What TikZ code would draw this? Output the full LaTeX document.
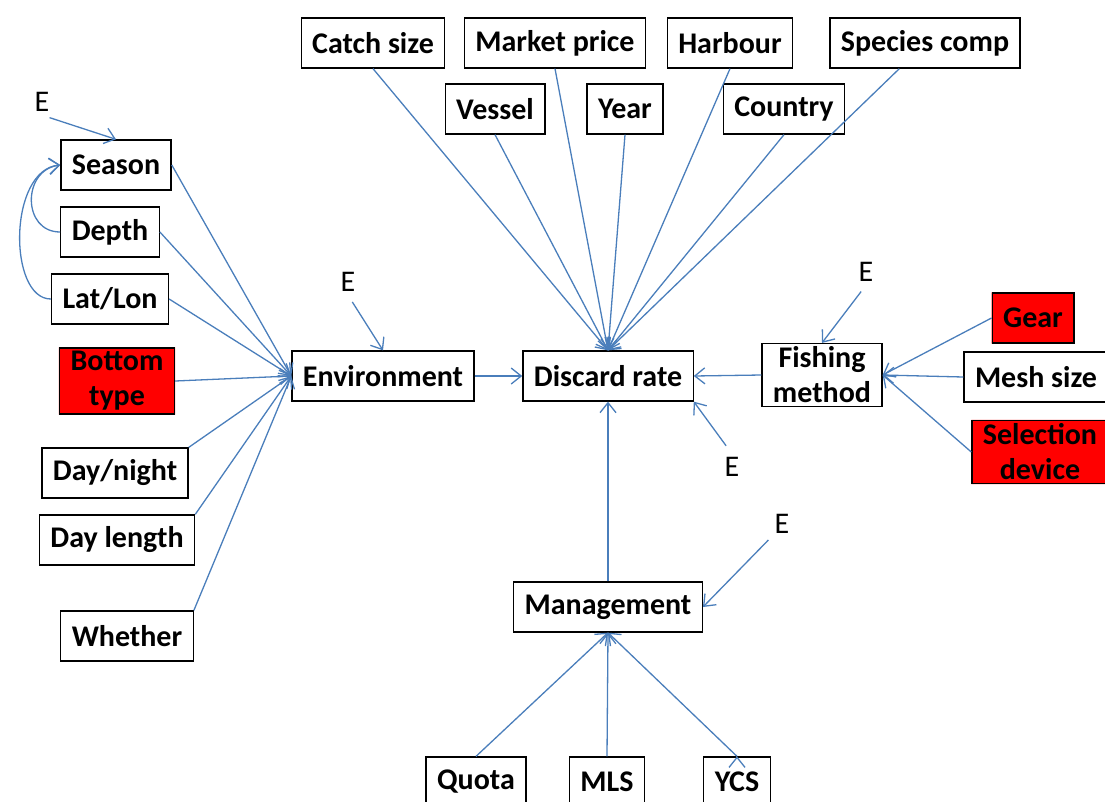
\documentclass[tikz,border=0pt]{standalone}
\usepackage{fontspec}
\setmainfont{Carlito}
\usetikzlibrary{arrows.meta,backgrounds}
\definecolor{linkblue}{RGB}{74,126,187}
\definecolor{ink}{RGB}{0,0,0}
\definecolor{alarm}{RGB}{255,0,0}
\begin{document}
\begin{tikzpicture}[x=1pt,y=-1pt]
\tikzstyle{every node}=[font=\fontsize{30}{35}\selectfont];
\tikzstyle{box}=[draw=black,line width=1.3pt,fill=white,text=ink,minimum height=50pt,inner xsep=11pt,align=center,font=\fontsize{30}{35}\selectfont\bfseries];
\tikzstyle{redbox}=[box,fill=none];
\tikzstyle{link}=[draw=linkblue,line width=1.3pt,-{Straight Barb[length=10pt,width=16pt,line width=1.3pt]}];
\useasboundingbox (0,0) rectangle (1105,801);
% top rows
\node[box] (catch) at (373,43) {Catch size};
\node[box] (price) at (555,43) {Market price};
\node[box] (harb) at (730,43) {Harbour};
\node[box] (spec) at (925,43) {Species comp};
\node[box] (vessel) at (495,109) {Vessel};
\node[box] (year) at (625,109) {Year};
\node[box] (country) at (784,109) {Country};
% left column
\node[box] (season) at (116,165) {Season};
\node[box] (depth) at (110,232) {Depth};
\node[box] (latlon) at (110,299) {Lat/Lon};
\node[redbox] (bottom) at (117,381) {Bottom\\type};
\node[box] (daynight) at (115,473) {Day/night};
\node[box] (daylen) at (117,540) {Day length};
\node[box] (whether) at (127,636) {Whether};
% middle
\node[box] (env) at (383,376) {Environment};
\node[box] (rate) at (608,376) {Discard rate};
\node[box] (fish) at (822,375) {Fishing\\method};
\node[box] (mgmt) at (608,607) {Management};
% right column
\node[redbox] (gear) at (1033,318) {Gear};
\node[box] (mesh) at (1036,377) {Mesh size};
\node[redbox] (select) at (1040,452) {Selection\\device};
% bottom row
\node[box] (quota) at (476,782) {Quota};
\node[box] (mls) at (607,782) {MLS};
\node[box] (ycs) at (737,782) {YCS};
% red fills behind the marked factors
\begin{scope}[on background layer]
\fill[alarm] (bottom.south west) rectangle (bottom.north east)
(gear.south west) rectangle (gear.north east)
(select.south west) rectangle (select.north east);
\end{scope}
% error terms
\node (e1) at (42,102) {E};
\node (e2) at (348,282) {E};
\node (e3) at (866,272) {E};
\node (e4) at (732,467) {E};
\node (e5) at (782,524) {E};
\draw[link] (season.east) edge (env.west)
(depth.east) edge (env.west)
(latlon.east) edge (env.west)
(bottom.east) edge (env.west)
(daynight.north east) edge (env.west)
(daylen.north east) edge (env.west)
(whether.north east) edge (env.west)
(catch.south) edge (rate.north)
(price.south) edge (rate.north)
(harb.south) edge (rate.north)
(spec.-135) edge (rate.north)
(vessel.south) edge (rate.north)
(year.south) edge (rate.north)
(country.south) edge (rate.north)
(env.east) edge (rate.west)
(fish.west) edge (rate.east)
(mgmt.north) edge (rate.south)
(gear.west) edge (fish.east)
(mesh.west) edge (fish.east)
(select.west) edge (fish.east)
(quota.north) edge (mgmt.south)
(mls.north) edge (mgmt.south)
(ycs.north) edge (mgmt.south);
\draw[link,shorten <=8pt] (e1.south) -- (season.north);
\draw[link,shorten <=8pt] (e2.south) -- (env.north);
\draw[link,shorten <=8pt] (e3.south) -- (fish.north);
\draw[link,shorten <=10pt] (e4.north) -- (rate.south east);
\draw[link,shorten <=4pt] (e5.south west) -- (mgmt.east);
\draw[link] (depth.west) .. controls (22,232) and (22,170) .. (season.west);
\draw[link] (latlon.west) .. controls (8,299) and (8,170) .. (season.west);
\end{tikzpicture}
\end{document}
